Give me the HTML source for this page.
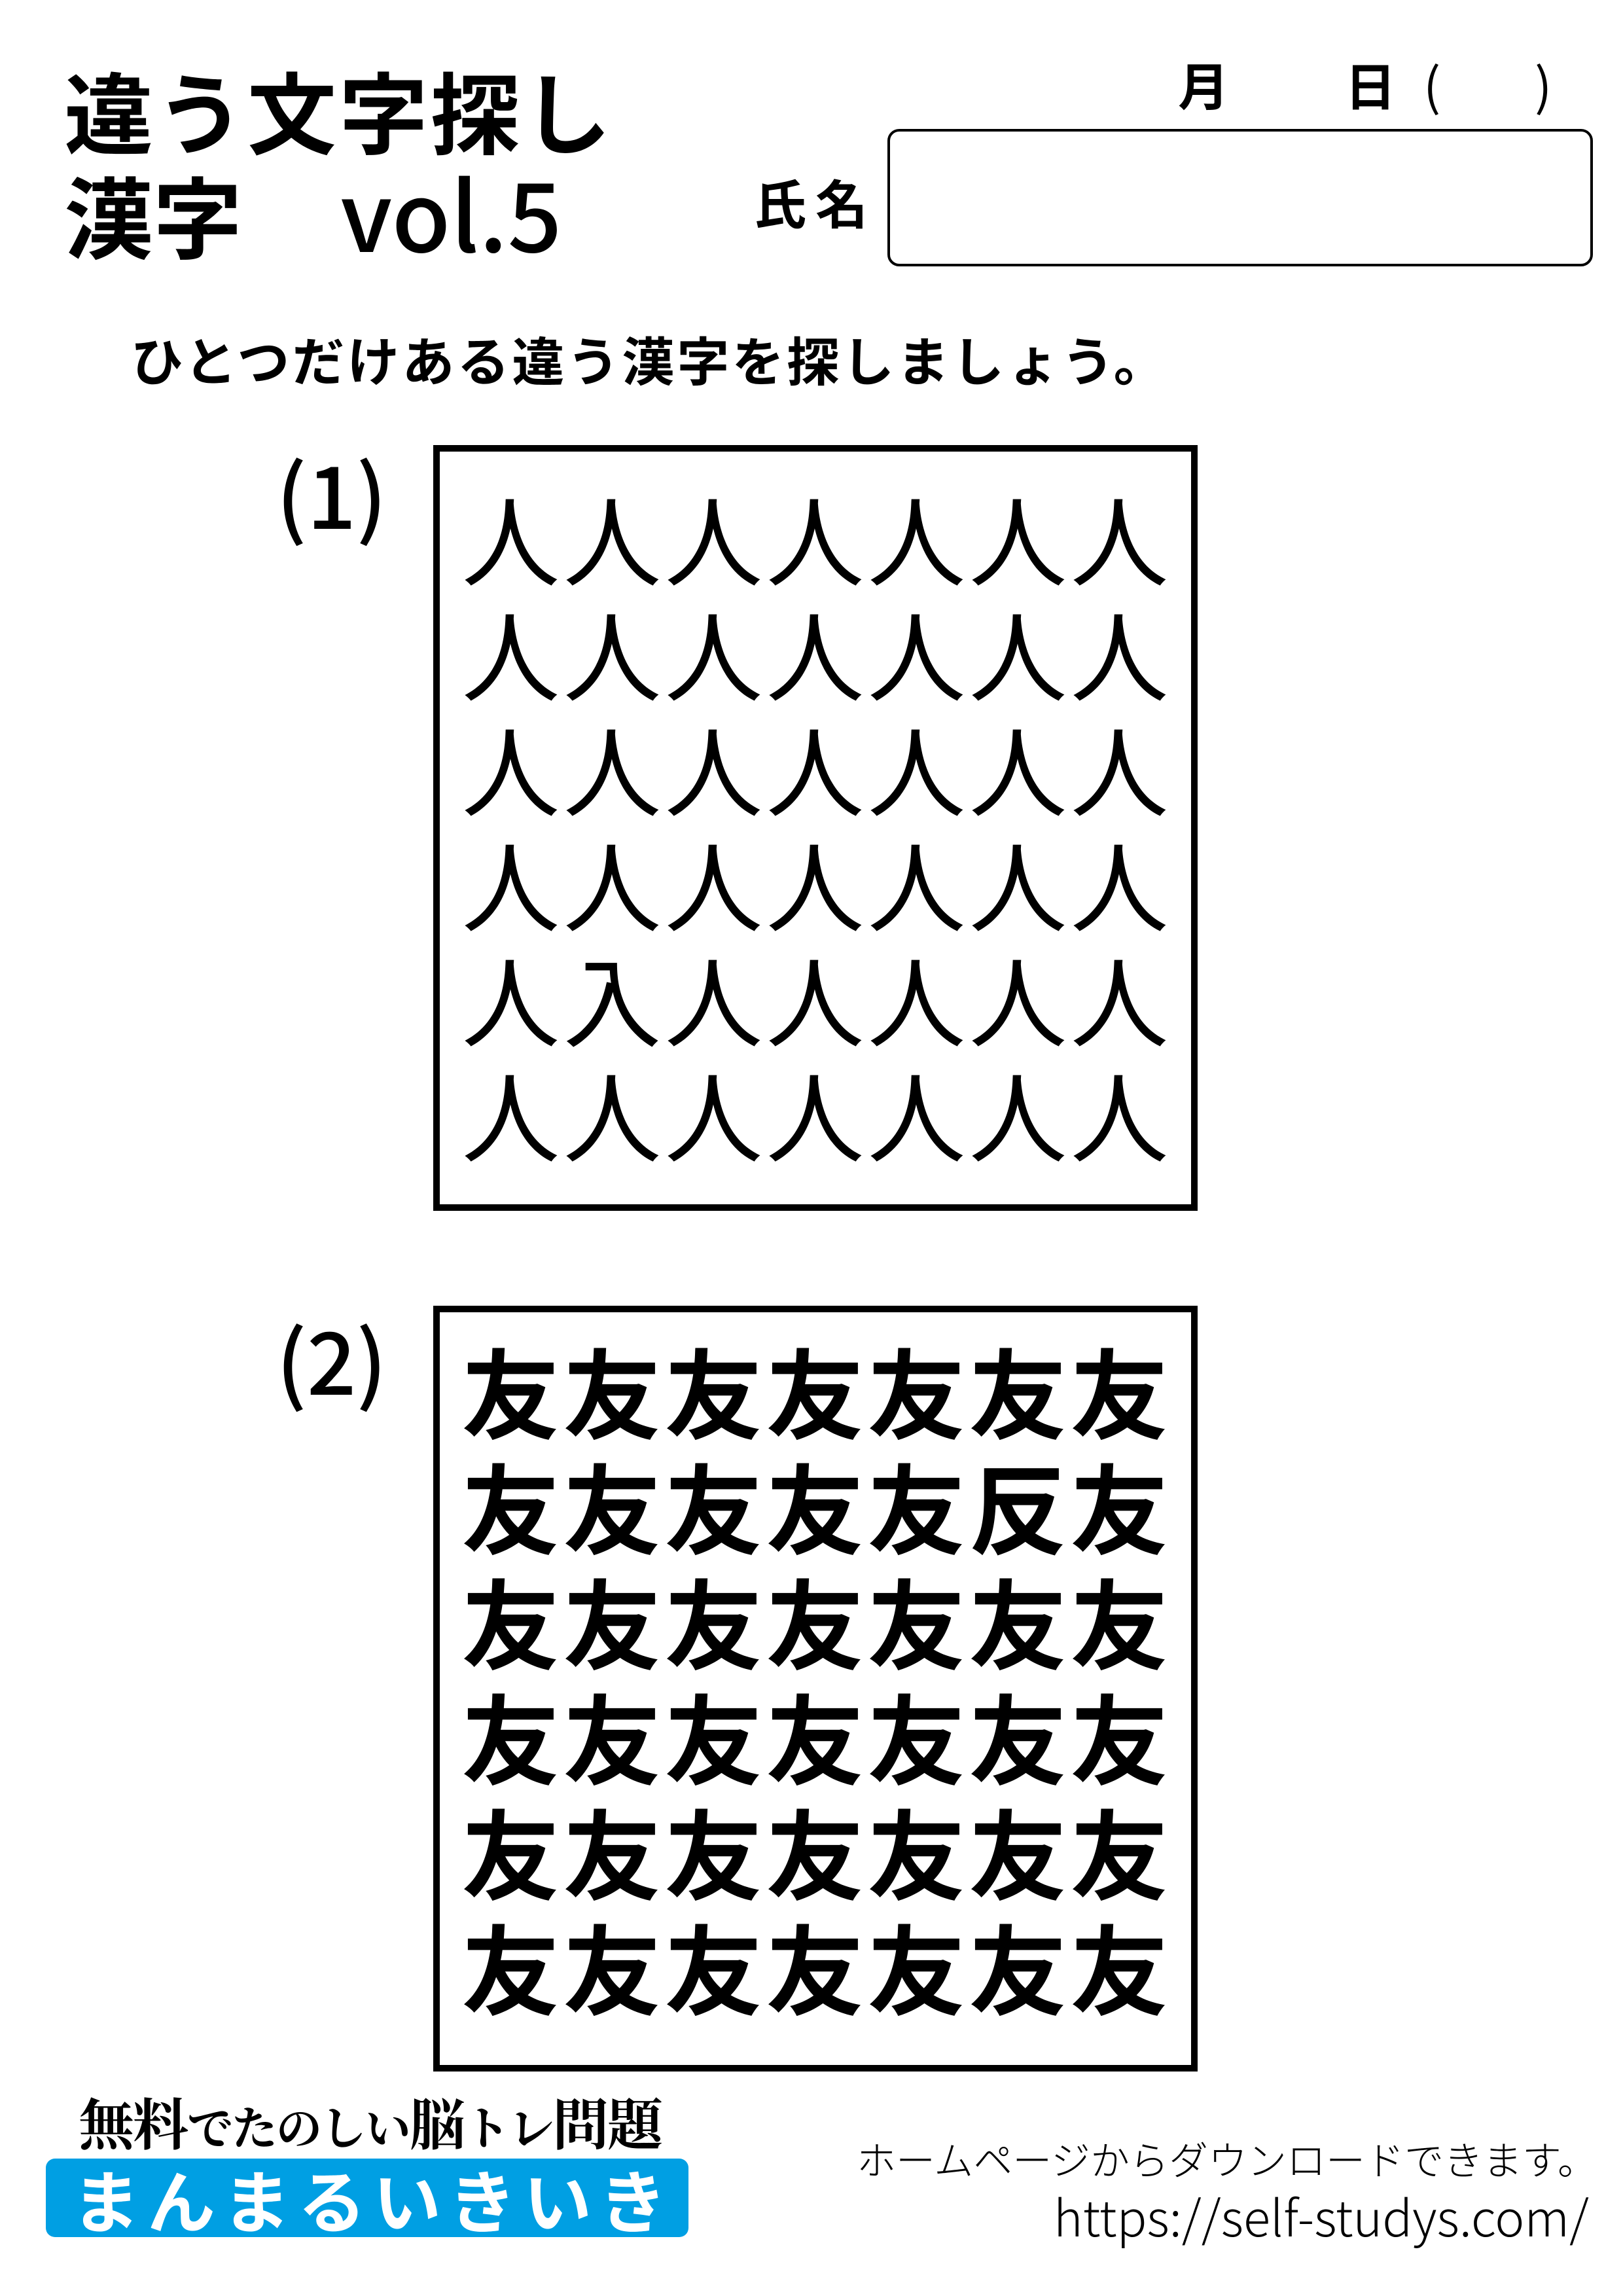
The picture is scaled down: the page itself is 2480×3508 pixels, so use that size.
<!DOCTYPE html>
<html><head><meta charset="utf-8"><style>
body{margin:0;width:2480px;height:3508px;background:#fff;position:relative;overflow:hidden;font-family:"Liberation Sans","Noto Sans CJK JP",sans-serif;color:#000}
.a{position:absolute;white-space:nowrap}
.box{position:absolute;border:10px solid #000;box-sizing:border-box}
.grid{position:absolute;display:grid;grid-template-columns:repeat(7,155px);grid-auto-rows:176px}
.grid div{font-family:"Noto Sans CJK JP",sans-serif;font-size:150px;line-height:176px;text-align:center}
</style></head><body>
<div class="a" style="left:98px;top:92px;font-size:136px;line-height:150px;font-weight:700;font-family:'Noto Sans CJK JP',sans-serif;letter-spacing:4px">違う文字探し</div>
<div class="a" style="left:98px;top:248px;font-size:136px;line-height:150px;font-weight:700;font-family:'Noto Sans CJK JP',sans-serif">漢字　<span style="font-family:'Noto Sans CJK JP',sans-serif;font-weight:500;font-size:146px;margin-left:14px">vol.5</span></div>
<div class="a" style="left:1800px;top:80px;font-size:78px;line-height:96px;font-weight:700;font-family:'Noto Sans CJK JP',sans-serif">月</div>
<div class="a" style="left:2055px;top:80px;font-size:78px;line-height:96px;font-weight:700;font-family:'Noto Sans CJK JP',sans-serif">日</div>
<div class="a" style="left:2175px;top:80px;font-size:78px;line-height:96px;font-family:'Noto Sans CJK JP',sans-serif">(</div>
<div class="a" style="left:2345px;top:80px;font-size:78px;line-height:96px;font-family:'Noto Sans CJK JP',sans-serif">)</div>
<div class="a" style="left:1152px;top:260px;font-size:80px;line-height:96px;font-weight:700;font-family:'Noto Sans CJK JP',sans-serif;letter-spacing:14px">氏名</div>
<div class="a" style="left:1356px;top:197px;width:1078px;height:210px;border:4px solid #000;border-radius:18px;box-sizing:border-box"></div>
<div class="a" style="left:200px;top:498px;font-size:80px;line-height:100px;font-weight:700;font-family:'Noto Sans CJK JP',sans-serif;letter-spacing:4px">ひとつだけある違う漢字を探しましょう。</div>

<div class="a" style="left:422px;top:672px;font-size:132px;line-height:160px;font-family:'Noto Sans CJK JP',sans-serif;font-weight:500">(1)</div>
<div class="box" style="left:662px;top:680px;width:1168px;height:1170px"></div>
<div class="grid" style="left:703px;top:732px">
<div>人</div><div>人</div><div>人</div><div>人</div><div>人</div><div>人</div><div>人</div>
<div>人</div><div>人</div><div>人</div><div>人</div><div>人</div><div>人</div><div>人</div>
<div>人</div><div>人</div><div>人</div><div>人</div><div>人</div><div>人</div><div>人</div>
<div>人</div><div>人</div><div>人</div><div>人</div><div>人</div><div>人</div><div>人</div>
<div>人</div><div>入</div><div>人</div><div>人</div><div>人</div><div>人</div><div>人</div>
<div>人</div><div>人</div><div>人</div><div>人</div><div>人</div><div>人</div><div>人</div>
</div>

<div class="a" style="left:422px;top:1995px;font-size:132px;line-height:160px;font-family:'Noto Sans CJK JP',sans-serif;font-weight:500">(2)</div>
<div class="box" style="left:662px;top:1995px;width:1168px;height:1170px"></div>
<div class="grid" style="left:703px;top:2035px;font-weight:600">
<div>友</div><div>友</div><div>友</div><div>友</div><div>友</div><div>友</div><div>友</div>
<div>友</div><div>友</div><div>友</div><div>友</div><div>友</div><div>反</div><div>友</div>
<div>友</div><div>友</div><div>友</div><div>友</div><div>友</div><div>友</div><div>友</div>
<div>友</div><div>友</div><div>友</div><div>友</div><div>友</div><div>友</div><div>友</div>
<div>友</div><div>友</div><div>友</div><div>友</div><div>友</div><div>友</div><div>友</div>
<div>友</div><div>友</div><div>友</div><div>友</div><div>友</div><div>友</div><div>友</div>
</div>

<div class="a" style="left:120px;top:3186px;font-size:85px;line-height:110px;font-weight:700;font-family:'Noto Serif CJK SC',serif;letter-spacing:-2px">無料<span style="font-size:70px">でたのしい</span>脳<span style="font-size:70px">トレ</span>問題</div>
<div class="a" style="left:70px;top:3298px;width:982px;height:120px;background:#009fe3;border-radius:14px"></div>
<div class="a" style="left:110px;top:3293px;font-size:104px;line-height:130px;color:#fff;font-weight:700;font-family:'Noto Sans CJK JP',sans-serif;letter-spacing:11px">まんまるいきいき</div>
<div class="a" style="right:40px;top:3258px;font-size:60px;line-height:80px;font-family:'Noto Sans CJK JP',sans-serif;font-weight:300">ホームページからダウンロードできます。</div>
<div class="a" style="right:52px;top:3336px;font-size:76px;line-height:96px;font-family:'Noto Sans CJK JP',sans-serif;font-weight:300">https://self-studys.com/</div>
</body></html>
